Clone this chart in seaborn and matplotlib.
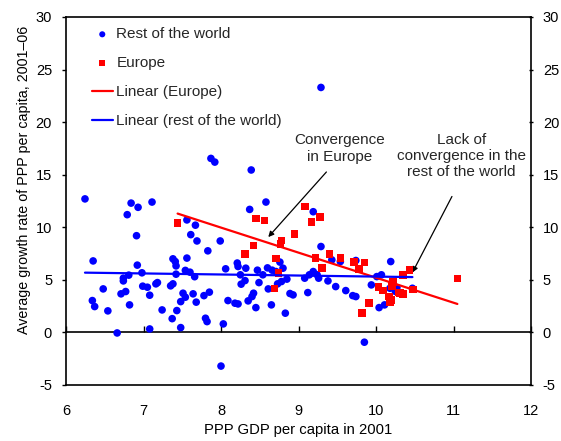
import matplotlib
matplotlib.use("Agg")
import matplotlib.pyplot as plt
import seaborn as sns
import pandas as pd
import numpy as np

# ---- data ----
row_x = [6.245, 7.87, 7.92, 6.84, 6.93, 7.11, 6.79, 7.56, 7.67, 7.61, 7.69, 7.99, 6.91, 7.83,
         6.35, 6.92, 7.38, 7.41, 7.42, 7.56, 8.06, 7.54, 7.60, 7.66, 7.42, 6.81, 6.98, 6.74,
         6.74, 6.48, 6.71, 6.77, 6.99, 7.05, 7.08, 7.16, 7.18, 7.35, 7.38, 7.51, 7.54, 7.64,
         7.68, 7.48, 7.78, 7.85, 8.09, 6.34, 6.37, 6.54, 6.82, 7.24, 7.43, 7.37, 7.48, 7.80,
         7.82, 8.03, 7.08, 6.66,
         8.39, 8.58, 8.37, 9.19, 9.29, 9.43, 9.54, 9.74, 8.21, 8.22, 8.32, 8.47, 8.60, 8.66,
         8.76, 8.80, 8.71, 8.54, 8.25, 8.85, 8.78, 8.73, 8.49, 8.31, 8.26, 8.61, 9.08, 9.14,
         9.19, 9.24, 9.26, 9.38, 9.48, 9.61, 9.70, 9.74, 9.94, 10.07, 10.01, 10.04, 10.11,
         8.89, 8.93, 9.12, 8.83, 8.65, 8.45, 8.40, 8.42, 8.35, 8.18, 8.22, 9.85,
         9.29, 8.00, 10.19, 10.47, 10.18, 10.27, 10.25]
row_y = [12.7, 16.55, 16.2, 12.3, 11.9, 12.4, 11.2, 10.7, 10.2, 9.3, 8.7, 8.7, 9.2, 7.76,
         6.8, 6.4, 7.0, 6.74, 6.33, 7.07, 6.05, 5.9, 5.73, 5.3, 5.54, 5.45, 5.67, 5.16,
         4.9, 4.14, 3.67, 3.89, 4.4, 4.3, 3.54, 4.62, 4.74, 4.43, 4.62, 3.73, 3.35, 3.67,
         2.88, 2.93, 3.5, 3.83, 3.03, 3.03, 2.46, 2.05, 2.62, 2.14, 2.08, 1.31, 0.46, 1.35,
         1.03, 0.81, 0.33, -0.05,
         15.45, 12.4, 11.7, 11.48, 8.17, 6.9, 6.74, 6.84, 6.6, 6.27, 6.11, 5.92, 6.14, 5.92,
         6.69, 6.11, 5.79, 5.48, 5.48, 5.07, 4.84, 4.62, 4.74, 4.93, 4.59, 4.14, 5.16, 5.48,
         5.79, 5.48, 5.16, 4.9, 4.36, 3.98, 3.5, 3.41, 4.52, 5.48, 5.31, 2.36, 2.62,
         3.7, 3.57, 3.79, 1.83, 2.62, 2.36, 3.41, 3.73, 3.0, 2.78, 2.71, -0.93,
         23.3, -3.2, 6.74, 4.2, 4.2, 4.27, 3.9]

eur_x = [7.44, 8.31, 8.42, 8.45, 8.56, 8.69, 8.71, 8.74, 8.77, 8.78, 8.95, 9.08, 9.17, 9.22,
         9.28, 9.30, 9.40, 9.54, 9.72, 9.78, 9.82, 9.85, 9.91, 10.03, 10.09, 10.17, 10.18,
         10.20, 10.21, 10.22, 10.29, 10.31, 10.35, 10.35, 10.43, 10.48, 11.05]
eur_y = [10.4, 7.48, 8.27, 10.84, 10.65, 4.17, 7.03, 5.64, 8.43, 8.74, 9.38, 11.98, 10.5, 7.1,
         11.0, 6.14, 7.48, 7.1, 6.71, 6.02, 1.83, 6.65, 2.78, 4.3, 3.98, 3.41, 2.84,
         3.1, 4.43, 4.78, 3.8, 3.73, 3.63, 5.48, 5.95, 4.1, 5.12]

x_ticks = [6, 7, 8, 9, 10, 11, 12]
y_ticks = [-5, 0, 5, 10, 15, 20, 25, 30]

row = pd.DataFrame({"gdp": row_x, "growth": row_y})
eur = pd.DataFrame({"gdp": eur_x, "growth": eur_y})

sns.set_theme(style="white")
plt.rcParams["font.family"] = ["Liberation Sans", "DejaVu Sans"]

fig = plt.figure(figsize=(5.61, 4.41), dpi=100)
ax = fig.add_axes([66 / 561, 1 - 385 / 441, 465 / 561, 368 / 441])

BLUE = "#0000FF"
RED = "#FF0000"

sns.scatterplot(data=row, x="gdp", y="growth", ax=ax, color=BLUE, marker="o",
                s=30, edgecolor="none", label="Rest of the world", zorder=3)
sns.scatterplot(data=eur, x="gdp", y="growth", ax=ax, color=RED, marker="s",
                s=30, edgecolor="none", label="Europe", zorder=4)
sns.regplot(data=eur, x="gdp", y="growth", ax=ax, scatter=False, ci=None, truncate=True,
            color=RED, line_kws={"lw": 1.6, "zorder": 5}, label="Linear (Europe)")
sns.regplot(data=row, x="gdp", y="growth", ax=ax, scatter=False, ci=None, truncate=True,
            color=BLUE, line_kws={"lw": 1.6, "zorder": 5}, label="Linear (rest of the world)")

ax.set_xlim(6, 12)
ax.set_ylim(-5, 30)
ax.set_xticks(x_ticks)
ax.set_yticks(y_ticks)
ax.set_xticklabels([str(v) for v in x_ticks])
ax.set_yticklabels([str(v) for v in y_ticks])
ax.tick_params(axis="x", length=0, pad=14, labelsize=10.5, colors="black")
ax.tick_params(axis="y", length=3, direction="out", width=1, pad=7, labelsize=10.5,
               left=True, colors="black")
for sp in ax.spines.values():
    sp.set_color("black")
    sp.set_linewidth(1.2)

ax.set_xlabel("PPP GDP per capita in 2001", fontsize=10.7, color="black", labelpad=3)
ax.set_ylabel("Average growth rate of PPP per capita, 2001–06", fontsize=10.3,
              color="black")
ax.yaxis.set_label_coords(-0.076, 0.557)

# zero line with tick marks pointing up
sec = ax.secondary_xaxis(0, transform=ax.transData)
sec.set_xticks(x_ticks)
sec.tick_params(axis="x", direction="in", length=4, width=1, labelbottom=False, colors="black")
sec.spines["bottom"].set_color("black")
sec.spines["bottom"].set_linewidth(1.2)

# right axis
ax2 = ax.twinx()
ax2.set_ylim(-5, 30)
ax2.set_yticks(y_ticks)
ax2.set_yticklabels([str(v) for v in y_ticks])
ax2.tick_params(axis="y", length=3, direction="inout", width=1, pad=7, labelsize=10.5,
                right=True, colors="black")
ax2.grid(False)
for sp in ax2.spines.values():
    sp.set_visible(False)

# legend
h, l = ax.get_legend_handles_labels()
order = ["Rest of the world", "Europe", "Linear (Europe)", "Linear (rest of the world)"]
hd = dict(zip(l, h))
leg = ax.legend([hd[o] for o in order], order, loc="upper left",
                bbox_to_anchor=(0.055, 0.972), frameon=False, fontsize=11,
                labelspacing=0.98, handlelength=1.4, handletextpad=0.22,
                borderpad=0, borderaxespad=0, markerscale=0.8)

# annotations
ax.text(9.53, 17.5, "Convergence\nin Europe", ha="center", va="center", fontsize=11,
        linespacing=1.2)
ax.annotate("", xy=(8.61, 9.07), xytext=(9.36, 15.26),
            arrowprops=dict(arrowstyle="-|>", color="black", lw=0.9, mutation_scale=8,
                            shrinkA=0, shrinkB=0))
ax.text(11.1, 16.8, "Lack of\nconvergence in the\nrest of the world", ha="center",
        va="center", fontsize=11, linespacing=1.2)
ax.annotate("", xy=(10.47, 5.7), xytext=(10.98, 12.93),
            arrowprops=dict(arrowstyle="-|>", color="black", lw=0.9, mutation_scale=8,
                            shrinkA=0, shrinkB=0))

fig.savefig("out.png", dpi=100)
